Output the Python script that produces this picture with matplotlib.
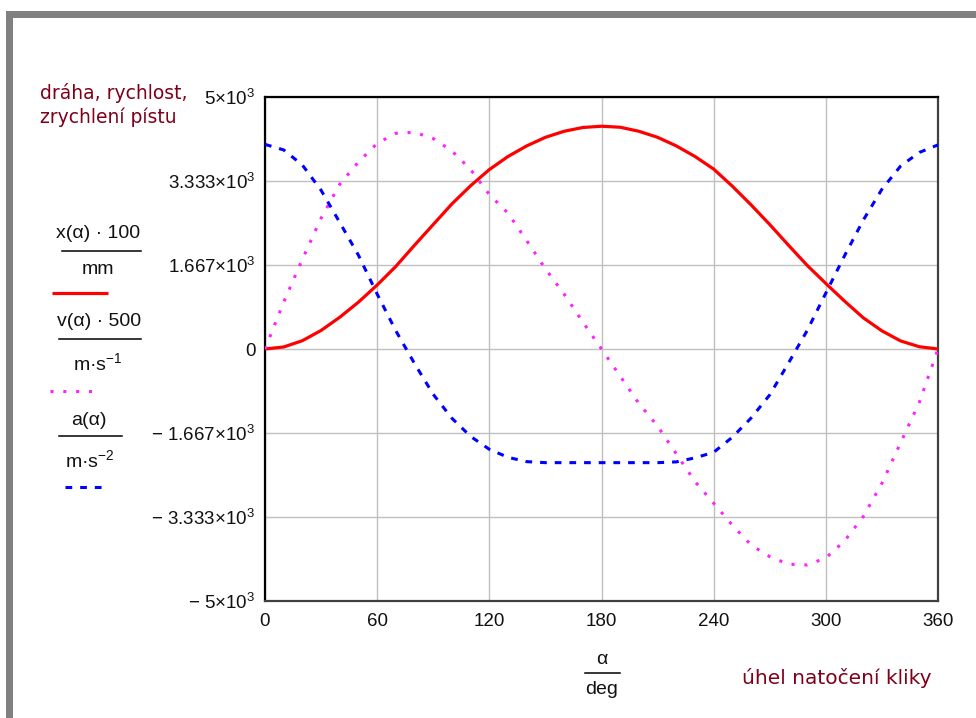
import matplotlib
matplotlib.use("Agg")
import matplotlib.pyplot as plt
from matplotlib.lines import Line2D
from matplotlib.patches import Rectangle

plt.rcParams['mathtext.fontset'] = 'custom'
plt.rcParams['mathtext.rm'] = 'Liberation Sans'
plt.rcParams['mathtext.it'] = 'Liberation Sans:italic'
plt.rcParams['mathtext.sf'] = 'Liberation Sans'

# === Data (crank angle in deg) ===
alpha = [0, 10, 20, 30, 40, 50, 60, 70, 80, 90, 100, 110, 120,
         130, 140, 150, 160, 170, 180, 190, 200, 210, 220, 230, 240,
         250, 260, 270, 280, 290, 300, 310, 320, 330, 340, 350, 360]

# x(alpha)*100/mm  - piston travel
draha = [0, 40, 165, 368, 630, 930, 1270, 1640, 2060, 2470, 2880, 3240, 3560,
         3820, 4030, 4200, 4320, 4395, 4420, 4400, 4320, 4200, 4030, 3820, 3570,
         3230, 2860, 2470, 2060, 1660, 1300, 950, 620, 360, 160, 45, 0]

# v(alpha)*500/(m/s) - piston velocity
rychlost = [0, 930, 1780, 2595, 3270, 3710, 4080, 4280, 4300, 4175, 3930, 3560, 3065,
            2695, 2150, 1590, 1090, 535, 0, -540, -1080, -1530, -2080, -2630, -3060,
            -3495, -3890, -4120, -4270, -4285, -4145, -3810, -3325, -2665, -1860, -1060, 0]

# a(alpha)/(m/s^2) - piston acceleration
zrychleni = [4060, 3950, 3650, 3150, 2510, 1860, 1090, 360, -290, -900, -1375, -1735, -1990,
             -2150, -2235, -2255, -2255, -2255, -2255, -2255, -2255, -2255, -2240, -2160, -2050,
             -1750, -1370, -910, -280, 365, 1110, 1850, 2555, 3170, 3630, 3900, 4050]

xticks = [0, 60, 120, 180, 240, 300, 360]
yticks = [-5000, -3333.3, -1666.7, 0, 1666.7, 3333.3, 5000]
ytick_labels = ['$-$ 5\u00d710$^3$', '$-$ 3.333\u00d710$^3$', '$-$ 1.667\u00d710$^3$', '0',
                '1.667\u00d710$^3$', '3.333\u00d710$^3$', '5\u00d710$^3$']

W, H = 976, 718
fig = plt.figure(figsize=(W / 100, H / 100), dpi=100)


def fx(px):
    return px / W


def fy(py):
    return 1 - py / H


# gray window border (top and left)
fig.add_artist(Rectangle((fx(6), fy(18)), 1 - fx(6), 7 / H, transform=fig.transFigure,
                         color='#808080', lw=0))
fig.add_artist(Rectangle((fx(6), 0), 7 / W, fy(11), transform=fig.transFigure,
                         color='#808080', lw=0))

ax = fig.add_axes([fx(265), fy(601), 673 / W, 504 / H])
ax.plot(alpha, draha, color='#ff0000', lw=2.3, solid_capstyle='butt', zorder=3)
ax.plot(alpha, rychlost, color='#ff22ff', lw=2.2, ls=(0, (1, 3.2)), zorder=3)
ax.plot(alpha, zrychleni, color='#0000ff', lw=2.2, ls=(0, (2.2, 2.6)), zorder=3)

ax.set_xlim(0, 360)
ax.set_ylim(-5000, 5000)
ax.set_xticks(xticks)
ax.set_xticklabels([str(t) for t in xticks])
ax.set_yticks(yticks)
ax.set_yticklabels(ytick_labels)
ax.tick_params(length=0, labelsize=13.5, labelcolor='#111111')
ax.tick_params(axis='y', pad=7)
ax.tick_params(axis='x', pad=9)
for lab in ax.get_xticklabels() + ax.get_yticklabels():
    lab.set_family('Liberation Sans')
ax.grid(True, color='#c0c0c0', lw=1.0)
ax.set_axisbelow(True)
for side in ['left', 'top']:
    ax.spines[side].set_color('black')
    ax.spines[side].set_linewidth(1.6)
for side in ['right', 'bottom']:
    ax.spines[side].set_color('#404040')
    ax.spines[side].set_linewidth(1.6)

# === red captions ===
red = '#80001a'
fig.text(fx(40), fy(93), 'dráha, rychlost,', color=red, fontsize=13.5, family='DejaVu Sans',
         va='center', ha='left')
fig.text(fx(40), fy(117), 'zrychlení pístu', color=red, fontsize=13.5, family='DejaVu Sans',
         va='center', ha='left')
fig.text(fx(742), fy(678), 'úhel natočení kliky', color=red, fontsize=14.5, family='DejaVu Sans',
         va='center', ha='left')

# === left legend: fractions with line samples ===
lab_kw = dict(fontsize=14, family='Liberation Sans', ha='center', va='center', color='#111111')


def bar(x0, x1, y):
    fig.add_artist(Line2D([fx(x0), fx(x1)], [fy(y), fy(y)], transform=fig.transFigure,
                          color='black', lw=1.1))


fig.text(fx(98), fy(233), 'x(α) · 100', **lab_kw)
bar(62, 141, 251)
fig.text(fx(98), fy(270), 'mm', **lab_kw)
fig.add_artist(Line2D([fx(52), fx(108)], [fy(293), fy(293)], transform=fig.transFigure,
                      color='#ff0000', lw=2.3, solid_capstyle='butt'))

fig.text(fx(99), fy(322), 'v(α) · 500', **lab_kw)
bar(59, 141, 339)
fig.text(fx(98), fy(363), 'm·s$^{-1}$', **lab_kw)
fig.add_artist(Line2D([fx(50), fx(100)], [fy(391), fy(391)], transform=fig.transFigure,
                      color='#ff22ff', lw=2.2, ls=(0, (1, 3.2))))

fig.text(fx(89), fy(420), 'a(α)', **lab_kw)
bar(59, 122, 436)
fig.text(fx(90), fy(460), 'm·s$^{-2}$', **lab_kw)
fig.add_artist(Line2D([fx(65), fx(104)], [fy(487), fy(487)], transform=fig.transFigure,
                      color='#0000ff', lw=2.2, ls=(0, (2.2, 2.6))))

# === x axis fraction label ===
fig.text(fx(602), fy(659), 'α', **lab_kw)
bar(585, 620, 673)
fig.text(fx(602), fy(690), 'deg', **lab_kw)

fig.savefig('out.png', dpi=100)
